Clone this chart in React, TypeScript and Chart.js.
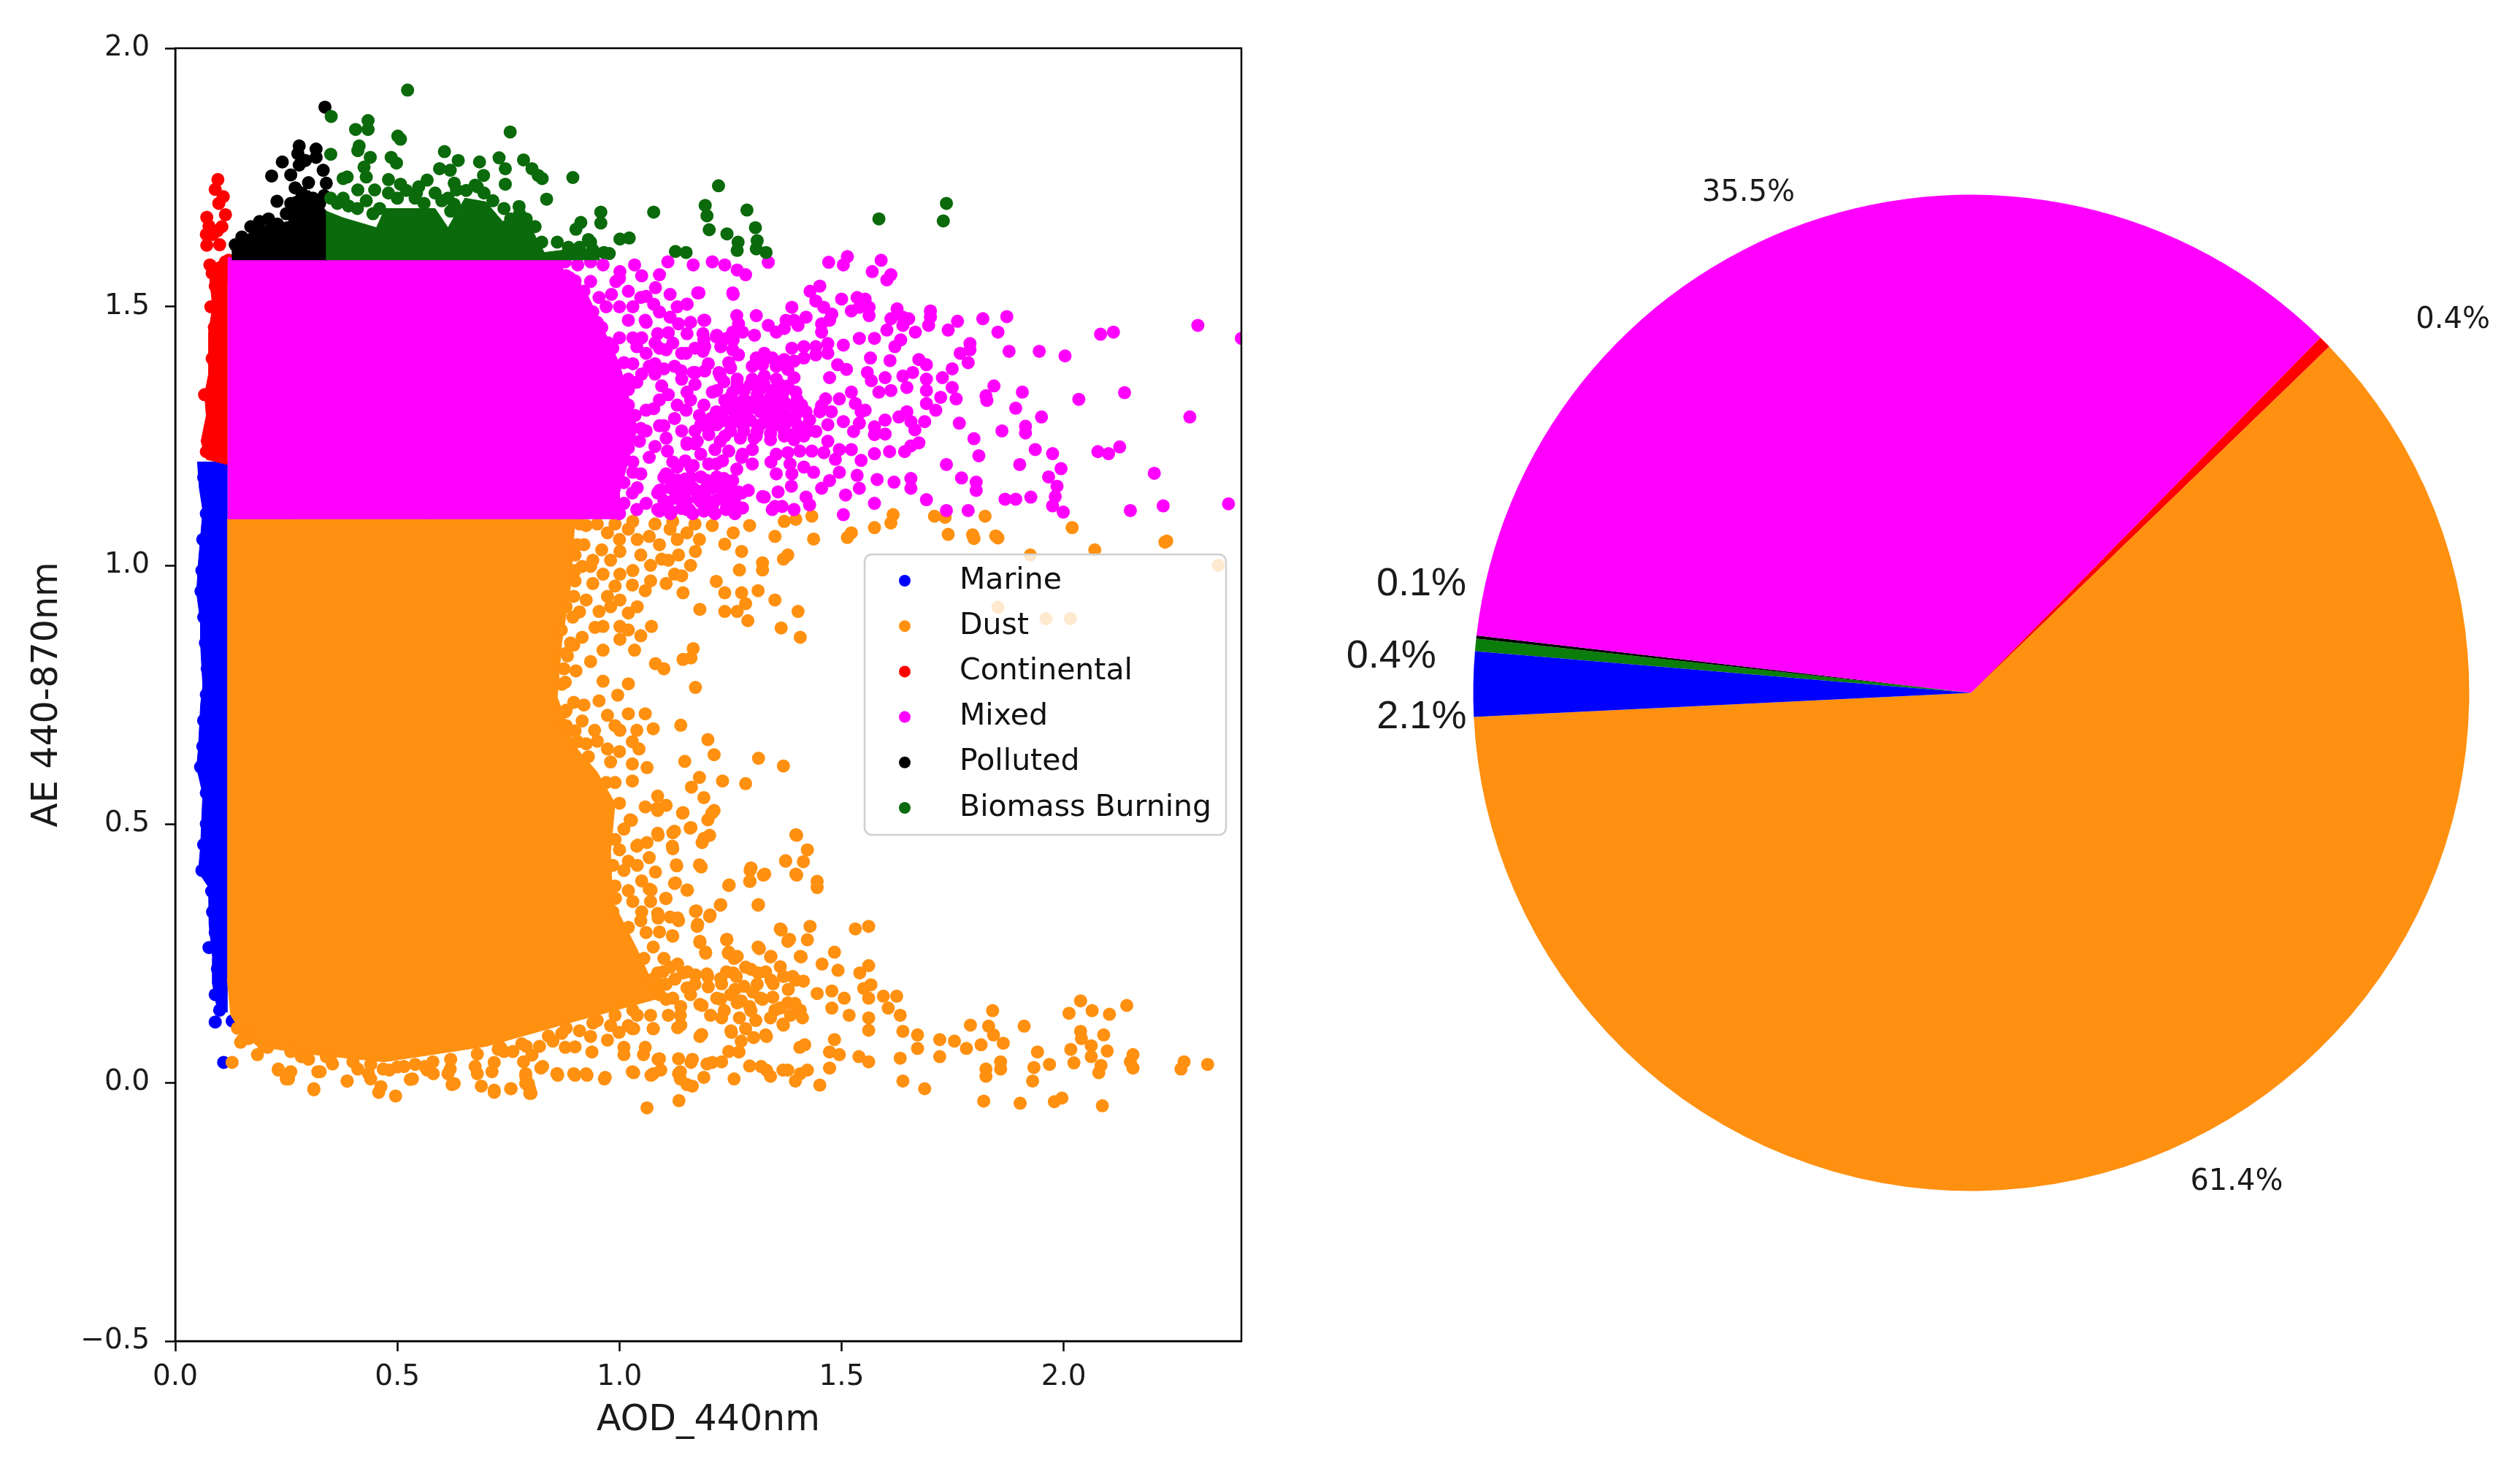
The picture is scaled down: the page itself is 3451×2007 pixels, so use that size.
import React, { useEffect, useRef } from "react";
import Chart from "chart.js/auto";

type P = [number, number];

const categories = ["Marine", "Dust", "Continental", "Mixed", "Polluted", "Biomass Burning"];
const scatterColors = ["#0000ff", "#ff9010", "#ff0000", "#ff00ff", "#000000", "#0b6a0b"];
const xTicks = [0, 0.5, 1, 1.5, 2];
const yTicks = [-0.5, 0, 0.5, 1, 1.5, 2];

const pieShares = [2.1, 61.4, 0.4, 35.5, 0.1, 0.4];
const pieColors = ["#0000ff", "#ff9010", "#ff0000", "#ff00ff", "#000000", "#0a7d0a"];

// Saturated regions of the scatter, as outlines
const marineCore: P[] = [[0.118,1.2],[0.05,1.2],[0.054,1.15],[0.062,1.106],[0.052,1.005],[0.048,0.947],[0.057,0.89],[0.057,0.846],[0.062,0.767],[0.057,0.731],[0.052,0.645],[0.048,0.609],[0.062,0.558],[0.057,0.457],[0.052,0.407],[0.075,0.378],[0.076,0.306],[0.084,0.241],[0.084,0.19],[0.095,0.14],[0.118,0.136]];
const dustCore: P[] = [[0.117,1.09],[0.9,1.09],[0.89,0.96],[0.87,0.85],[0.86,0.745],[0.9,0.65],[0.95,0.6],[0.99,0.54],[0.98,0.445],[0.985,0.35],[1.04,0.257],[1.09,0.163],[0.89,0.116],[0.7,0.07],[0.47,0.04],[0.3,0.055],[0.185,0.07],[0.147,0.1],[0.125,0.13],[0.117,0.2]];
const continentalCore: P[] = [[0.118,1.195],[0.07,1.205],[0.058,1.24],[0.07,1.29],[0.066,1.33],[0.075,1.37],[0.075,1.45],[0.084,1.5],[0.078,1.55],[0.078,1.58],[0.118,1.595]];
const mixedCore: P[] = [[0.118,1.595],[0.85,1.595],[0.93,1.52],[1.0,1.39],[1.04,1.265],[1.0,1.14],[1.0,1.09],[0.118,1.09]];
const pollutedCore: P[] = [[0.128,1.59],[0.128,1.62],[0.189,1.655],[0.255,1.665],[0.26,1.71],[0.302,1.725],[0.34,1.685],[0.34,1.59]];
const biomassCore: P[] = [[0.34,1.59],[0.34,1.685],[0.378,1.672],[0.453,1.653],[0.472,1.69],[0.529,1.69],[0.585,1.69],[0.614,1.653],[0.652,1.71],[0.699,1.703],[0.737,1.665],[0.784,1.684],[0.812,1.634],[0.831,1.605],[0.878,1.61],[0.935,1.612],[0.954,1.6],[0.954,1.59]];

// Individually visible points
const marineDots: P[] = [[0.09,0.117],[0.128,0.119],[0.109,0.039],[0.076,0.261],
[0.064,1.17],[0.07,1.1],[0.062,1.05],[0.06,0.99],[0.058,0.95],[0.064,0.9],[0.068,0.85],[0.072,0.8],[0.07,0.75],[0.064,0.7],[0.062,0.65],[0.057,0.61],[0.07,0.56],[0.07,0.5],[0.064,0.46],[0.06,0.41],[0.082,0.37],[0.084,0.33],[0.09,0.29],[0.095,0.22],[0.09,0.17],[0.1,0.14]];
const continentalDots: P[] = [[0.096,1.746],[0.09,1.727],[0.108,1.713],[0.098,1.7],[0.113,1.678],[0.071,1.673],[0.076,1.656],[0.095,1.647],[0.071,1.619],[0.113,1.587],[0.1,1.62],[0.085,1.64],
[0.078,1.24],[0.07,1.22],[0.083,1.3],[0.066,1.33],[0.083,1.4],[0.088,1.46],[0.08,1.5],[0.09,1.54],[0.083,1.565],[0.115,1.56],[0.12,1.59],[0.12,1.575],[0.078,1.581],[0.105,1.655],[0.07,1.64]];
const pollutedDots: P[] = [[0.337,1.886],[0.217,1.753],[0.241,1.78],[0.26,1.755],[0.279,1.811],[0.276,1.796],[0.279,1.774],[0.293,1.783],[0.317,1.805],[0.317,1.789],[0.333,1.764],[0.34,1.739],[0.229,1.704],
[0.135,1.62],[0.15,1.635],[0.17,1.655],[0.19,1.665],[0.21,1.67],[0.23,1.66],[0.25,1.68],[0.26,1.7],[0.27,1.73],[0.285,1.72],[0.3,1.74],[0.31,1.71],[0.325,1.7],[0.335,1.715],[0.29,1.7]];
const biomassDots: P[] = [[0.523,1.919],[0.351,1.868],[0.434,1.86],[0.406,1.843],[0.434,1.843],[0.501,1.83],[0.507,1.824],[0.414,1.811],[0.411,1.802],[0.35,1.795],[0.439,1.789],[0.486,1.789],[0.498,1.778],[0.606,1.8],[0.637,1.783],[0.595,1.767],[0.619,1.764],[0.685,1.78],[0.729,1.788],[0.754,1.838],[0.784,1.784],[0.803,1.767],[0.817,1.754],[0.826,1.748],[0.743,1.767],[0.694,1.754],[0.743,1.737],[0.895,1.75],[0.425,1.77],[0.387,1.751],[0.378,1.748],[0.43,1.751],[0.48,1.746],[0.507,1.737],[0.449,1.726],[0.411,1.726],[0.567,1.745],[0.548,1.732],[0.628,1.739],[0.633,1.726],[0.68,1.732],[0.543,1.72],[0.378,1.71],[0.836,1.708],[0.774,1.694],[0.958,1.683],[0.958,1.662],[0.913,1.663],[0.902,1.65],[1.077,1.683],[1.223,1.734],[1.193,1.696],[1.197,1.676],[1.202,1.649],[1.242,1.641],[1.287,1.687],[1.306,1.653],[1.31,1.628],[1.267,1.625],[1.265,1.609],[1.308,1.612],[1.33,1.605],[1.001,1.631],[1.022,1.633],[0.977,1.603],[1.126,1.607],[1.15,1.605],[0.935,1.625],[0.614,1.71],[0.628,1.698],[1.584,1.67],[1.736,1.7],[1.729,1.666],
[0.35,1.71],[0.365,1.7],[0.39,1.695],[0.41,1.69],[0.43,1.705],[0.445,1.68],[0.46,1.69],[0.48,1.72],[0.5,1.71],[0.52,1.725],[0.54,1.71],[0.56,1.7],[0.585,1.72],[0.6,1.705],[0.62,1.685],[0.64,1.675],[0.655,1.725],[0.675,1.735],[0.695,1.72],[0.715,1.705],[0.74,1.69],[0.755,1.67],[0.775,1.68],[0.79,1.67],[0.81,1.655],[0.825,1.625],[0.86,1.625],[0.885,1.615],[0.91,1.615],[0.94,1.61],[0.965,1.605],[0.93,1.63]];
const mixedDots: P[] = [
[1.335,1.586],[1.471,1.586],[1.513,1.597],[1.504,1.581],[1.589,1.59],[1.569,1.568],[1.611,1.562],[1.602,1.552],[1.451,1.54],[1.429,1.53],[1.5,1.515],[1.535,1.518],[1.553,1.515],[1.54,1.499],[1.562,1.499],[1.522,1.492],[1.562,1.483],[1.625,1.496],[1.7,1.492],[1.7,1.48],[1.696,1.464],[1.638,1.48],[1.651,1.477],[1.611,1.477],[1.638,1.464],[1.602,1.455],[1.666,1.451],[1.761,1.472],[1.74,1.455],[1.818,1.477],[1.872,1.481],[1.852,1.451],[2.083,1.447],[2.112,1.451],[2.302,1.464],[2.4,1.439],[1.54,1.439],[1.574,1.439],[1.504,1.426],[1.633,1.436],[1.62,1.423],[1.789,1.429],[1.789,1.417],[1.767,1.41],[1.785,1.392],[1.877,1.414],[1.945,1.414],[2.003,1.405],[1.565,1.401],[1.609,1.396],[1.674,1.398],[1.691,1.388],[1.749,1.38],[1.511,1.379],[1.491,1.388],[1.473,1.363],[1.558,1.373],[1.598,1.363],[1.567,1.357],[1.638,1.366],[1.66,1.373],[1.691,1.36],[1.727,1.363],[1.647,1.344],[1.749,1.344],[1.584,1.335],[1.611,1.338],[1.691,1.338],[1.723,1.325],[1.758,1.322],[1.843,1.347],[1.825,1.328],[1.827,1.319],[1.907,1.335],[2.034,1.321],[2.137,1.334],[1.691,1.313],[1.712,1.3],[1.892,1.304],[1.95,1.287],[2.284,1.287],[1.647,1.297],[1.629,1.287],[1.656,1.278],[1.687,1.278],[1.665,1.262],[1.598,1.281],[1.574,1.268],[1.574,1.253],[1.598,1.254],[1.553,1.3],[1.54,1.275],[1.527,1.259],[1.765,1.275],[1.861,1.26],[1.914,1.269],[1.914,1.256],[1.798,1.245],[1.674,1.237],[1.656,1.231],[1.642,1.22],[1.608,1.22],[1.574,1.216],[1.522,1.224],[1.544,1.203],[1.809,1.212],[1.936,1.224],[1.975,1.216],[2.077,1.22],[2.101,1.216],[2.126,1.229],[1.736,1.195],[1.901,1.195],[1.994,1.187],[2.204,1.178],[1.966,1.171],[1.985,1.153],[1.77,1.169],[1.803,1.161],[1.803,1.145],[1.656,1.168],[1.656,1.149],[1.618,1.161],[1.58,1.166],[1.535,1.174],[1.54,1.149],[1.495,1.18],[1.473,1.164],[1.455,1.149],[1.509,1.136],[1.42,1.132],[1.387,1.153],[1.357,1.142],[1.326,1.132],[1.29,1.145],[1.574,1.12],[1.691,1.127],[1.868,1.128],[1.892,1.128],[1.926,1.132],[1.981,1.133],[1.975,1.115],[1.999,1.103],[1.736,1.106],[1.785,1.106],[2.15,1.106],[2.224,1.115],[2.371,1.119],[1.504,1.098],[1.428,1.117],[1.393,1.108],[1.344,1.108],[1.366,1.114],
[1.442,1.511],[1.46,1.499],[1.478,1.486],[1.455,1.467],[1.473,1.474],[1.388,1.499],[1.393,1.474],[1.375,1.474],[1.42,1.48],[1.335,1.464],[1.353,1.451],[1.371,1.458],[1.402,1.464],[1.455,1.451],[1.308,1.483],[1.304,1.445],[1.264,1.483],[1.255,1.527],[1.179,1.527],[1.152,1.505],[1.192,1.474],[1.268,1.467],[1.255,1.451],[1.277,1.451],[1.188,1.448],[1.219,1.445],[1.241,1.439],[1.192,1.423],[1.228,1.423],[1.255,1.417],[1.188,1.414],[1.469,1.429],[1.442,1.423],[1.415,1.423],[1.388,1.42],[1.469,1.41],[1.442,1.407],[1.415,1.401],[1.393,1.395],[1.371,1.398],[1.326,1.41],[1.308,1.401],[1.344,1.401],[1.268,1.407],[1.246,1.392],[1.224,1.373],[1.192,1.376],[1.166,1.373],[1.139,1.376],[1.25,1.382],[1.299,1.385],[1.322,1.388],[1.353,1.385],[1.379,1.379],[1.393,1.363],[1.326,1.366],[1.299,1.36],[1.353,1.36],[1.379,1.347],[1.397,1.335],[1.344,1.338],[1.317,1.341],[1.281,1.338],[1.255,1.335],[1.219,1.338],[1.237,1.319],[1.264,1.313],[1.29,1.316],[1.317,1.319],[1.344,1.313],[1.371,1.316],[1.393,1.309],[1.42,1.297],[1.397,1.291],[1.371,1.294],[1.344,1.291],[1.317,1.297],[1.286,1.294],[1.259,1.294],[1.232,1.297],[1.206,1.284],[1.183,1.272],[1.219,1.272],[1.25,1.275],[1.277,1.272],[1.317,1.272],[1.344,1.268],[1.375,1.275],[1.406,1.268],[1.428,1.281],[1.451,1.297],[1.464,1.322],[1.455,1.309],[1.477,1.297],[1.504,1.278],[1.495,1.322],[1.522,1.335],[1.531,1.313],[1.544,1.297],[1.469,1.272],[1.442,1.259],[1.415,1.25],[1.393,1.243],[1.371,1.25],[1.34,1.243],[1.308,1.25],[1.272,1.246],[1.237,1.25],[1.201,1.253],[1.175,1.24],[1.152,1.237],[1.108,1.221],[1.469,1.24],[1.495,1.224],[1.486,1.205],[1.46,1.218],[1.433,1.221],[1.406,1.221],[1.379,1.218],[1.353,1.215],[1.299,1.224],[1.277,1.215],[1.246,1.221],[1.215,1.224],[1.183,1.215],[1.148,1.202],[1.13,1.19],[1.166,1.193],[1.201,1.196],[1.232,1.202],[1.264,1.186],[1.299,1.196],[1.384,1.196],[1.415,1.19],[1.437,1.18],[1.353,1.177],[1.388,1.177],
[1.09,1.105],[1.115,1.1],[1.14,1.11],[1.165,1.1],[1.19,1.105],[1.215,1.1],[1.24,1.108],[1.26,1.1],[1.1,1.125],[1.125,1.13],[1.15,1.125],[1.175,1.13],[1.2,1.125],[1.23,1.13],[1.255,1.125],[1.09,1.145],[1.115,1.15],[1.14,1.148],[1.165,1.15],[1.19,1.145],[1.225,1.15],[1.25,1.148],[1.1,1.17],[1.13,1.165],[1.16,1.17],[1.195,1.165],[1.235,1.168],[1.112,1.171],[1.148,1.167],[1.183,1.171],[1.219,1.171],[1.255,1.164],[1.094,1.146],[1.13,1.142],[1.17,1.146],[1.206,1.149],[1.241,1.145],[1.268,1.142],[1.108,1.12],[1.143,1.127],[1.183,1.123],[1.219,1.127],[1.259,1.123],[1.277,1.111],[1.117,1.104],[1.157,1.108],[1.197,1.108],[1.241,1.111],[1.048,1.177],[1.105,1.177],[1.029,1.14],[1.086,1.14],[1.152,1.145],[1.209,1.152],[1.039,1.108],[1.086,1.108],[1.152,1.108],[1.209,1.114],
[1.235,1.355],[1.265,1.35],[1.295,1.35],[1.325,1.35],[1.36,1.35],[1.25,1.325],[1.28,1.32],[1.31,1.33],[1.34,1.325],[1.365,1.33],[1.4,1.32],[1.245,1.305],[1.275,1.3],[1.305,1.305],[1.335,1.3],[1.36,1.3],[1.41,1.31],[1.235,1.28],[1.265,1.28],[1.295,1.28],[1.33,1.28],[1.36,1.285],[1.395,1.28],[1.25,1.26],[1.28,1.26],[1.31,1.26],[1.34,1.255],[1.37,1.262],[1.4,1.26],[1.425,1.26],
[0.878,1.587],[0.906,1.581],[0.935,1.587],[0.963,1.581],[1.001,1.568],[1.034,1.581],[0.888,1.556],[0.935,1.549],[0.992,1.549],[1.02,1.53],[0.954,1.518],[0.982,1.524],[1.077,1.505],[1.048,1.518],[1.109,1.587],[1.09,1.562],[1.081,1.537],[1.114,1.524],[1.166,1.581],[1.176,1.527],[1.152,1.505],[1.114,1.48],[1.133,1.467],[1.19,1.474],[1.02,1.474],[1.058,1.474],[1.086,1.448],[1.152,1.448],[1.19,1.436],[1.218,1.442],[1.256,1.436],[1.105,1.417],[1.039,1.423],[1.01,1.392],[1.067,1.385],[1.124,1.385],[1.171,1.373],[1.227,1.366],[1.039,1.354],[1.095,1.347],[1.152,1.335],[1.209,1.335],[1.265,1.36],[1.312,1.354],[1.369,1.335],[1.02,1.31],[1.077,1.303],[1.124,1.284],[1.218,1.297],[1.275,1.316],[1.331,1.309],[1.048,1.265],[1.105,1.246],[1.199,1.265],[1.256,1.278],[1.35,1.278],[1.02,1.227],[1.067,1.209],[1.152,1.234],[1.227,1.24],[1.303,1.246],[1.379,1.253],[1.161,1.19],[1.218,1.196],[1.275,1.209],[1.341,1.2],[1.275,1.14],[1.322,1.133],[1.265,1.108],[1.35,1.114],[1.209,1.587],[1.237,1.581],[1.265,1.571],[1.284,1.562],[1.256,1.524],
[0.86,1.58],[0.88,1.56],[0.9,1.54],[0.92,1.53],[0.94,1.49],[0.96,1.46],[0.975,1.43],[1.0,1.44],[1.0,1.5],[1.03,1.44],[1.06,1.41],[1.08,1.39],[1.11,1.33],[1.14,1.41],[1.17,1.42],[1.11,1.45],[1.06,1.52],[1.05,1.56],[0.97,1.5],[1.02,1.36],[1.09,1.27],[1.15,1.3],[1.17,1.26],[1.19,1.31],[1.09,1.42],
[1.03,1.5],[1.0,1.555],[1.06,1.47],[1.09,1.49],[1.13,1.5],[1.16,1.47],[1.05,1.44],[1.08,1.43],[1.12,1.43],[1.15,1.41],[1.03,1.39],[1.05,1.37],[1.08,1.37],[1.1,1.38],[1.14,1.36],[1.17,1.35],[1.2,1.39],[1.06,1.3],[1.09,1.32],[1.13,1.31],[1.16,1.32],[1.18,1.29],[1.06,1.26],[1.1,1.27],[1.14,1.26],[1.17,1.235],[1.08,1.23],[1.12,1.2],[1.04,1.15],[1.06,1.12],[1.03,1.18],
[0.985,1.42],[1.02,1.34],[1.035,1.29],[1.045,1.24],[1.03,1.2],[1.01,1.16],[1.01,1.12],[1.0,1.1],[0.95,1.47],[0.9,1.55]];
const dustDots: P[] = [
[1.709,1.095],[1.616,1.098],[1.611,1.082],[1.574,1.073],[1.522,1.063],[1.513,1.054],[1.74,1.06],[1.798,1.052],[1.847,1.057],[1.823,1.095],[2.019,1.073],[2.228,1.045],[1.437,1.051],[1.433,1.095],[1.397,1.089],[1.371,1.085],[2.348,1.0],[2.232,1.047],[2.07,1.03],[1.925,1.02],[1.852,1.053],[1.795,1.059],[1.733,1.093],[1.96,0.897],[2.015,0.897],[1.852,0.919],
[0.916,0.998],[0.935,0.998],[0.963,0.983],[1.001,0.983],[1.029,0.962],[1.058,0.951],[0.897,0.94],[0.925,0.933],[0.973,0.94],[1.001,0.933],[0.954,0.911],[1.02,0.908],[0.963,0.882],[1.001,0.882],[1.072,0.882],[1.02,0.875],[0.869,0.875],[0.916,0.861],[0.897,0.846],[1.001,0.857],[1.048,0.864],[1.034,0.836],[0.963,0.836],[0.883,0.825],[0.902,0.796],[0.935,0.814],[1.081,0.81],[1.1,0.8],[1.161,0.821],[1.166,0.839],[1.143,0.818],[0.878,0.774],[0.963,0.776],[1.02,0.771],[0.996,0.749],[1.171,0.764],[0.897,0.735],[0.954,0.738],[0.878,0.717],[1.138,0.691],[0.916,0.699],[0.944,0.681],[0.973,0.71],[1.02,0.713],[1.058,0.713],[1.001,0.681],[1.039,0.681],[1.076,0.684],[1.199,0.663],[1.213,0.634],[0.906,0.659],[0.973,0.645],[1.029,0.659],[1.044,0.645],[1.313,0.627],[1.369,0.612],[1.147,0.621],[1.029,0.616],[1.062,0.609],[1.029,0.583],[1.18,0.59],[1.162,0.571],[1.232,0.583],[1.284,0.578],[1.19,0.551],[1.086,0.554],[1.058,0.533],[1.105,0.536],[1.086,0.526],[1.143,0.522],[1.213,0.526],[1.199,0.508],[1.024,0.508],[1.161,0.493],[1.124,0.486],[1.086,0.482],[1.062,0.464],[1.039,0.457],[1.119,0.457],[1.19,0.472],[1.397,0.479],[1.374,0.428],[1.128,0.421],[1.18,0.421],[1.067,0.435],[1.02,0.428],[1.081,0.407],[1.294,0.41],[1.327,0.403],[1.397,0.403],[1.294,0.389],[1.246,0.381],[1.124,0.385],[1.152,0.372],[1.02,0.371],[1.067,0.374],[0.991,0.356],[1.227,0.343],[1.312,0.343],[1.105,0.356],[1.171,0.331],[1.204,0.324],[1.086,0.327],[1.048,0.313],[1.114,0.32],[1.133,0.313],[1.176,0.306],[1.364,0.295],[1.09,0.291],[1.119,0.284],[1.242,0.277],[1.383,0.277],[1.181,0.273],[1.076,0.262],[1.312,0.262],[1.194,0.252],[1.246,0.252],[1.341,0.244],[1.407,0.244],[1.265,0.244],
[1.086,0.212],[1.105,0.19],[1.152,0.183],[1.105,0.161],[1.138,0.147],[1.181,0.151],[1.35,0.14],[1.138,0.111],[1.029,0.104],[1.076,0.104],[1.185,0.093],[1.251,0.1],[1.284,0.104],[1.331,0.089],[1.369,0.111],
[1.114,0.223],[1.143,0.212],[1.171,0.208],[1.199,0.205],[1.228,0.201],[1.256,0.212],[1.284,0.223],[1.312,0.212],[1.341,0.198],[1.369,0.205],[1.397,0.198],[1.228,0.161],[1.265,0.154],[1.293,0.147],[1.322,0.161],[1.379,0.154],[1.407,0.14],[1.098,0.214],[1.131,0.229],[1.153,0.214],[1.197,0.21],[1.241,0.214],[1.263,0.205],[1.296,0.219],[1.329,0.214],[1.362,0.224],[1.346,0.191],[1.087,0.191],[1.23,0.191],[1.28,0.186],[1.219,0.163],[1.274,0.158],[1.318,0.163],[1.395,0.153],[1.186,0.149],[1.236,0.139],[1.296,0.139],[1.362,0.144],[1.412,0.125],[1.23,0.125],[1.307,0.12],[1.125,0.2],[1.17,0.19],[1.2,0.185],[1.26,0.18],[1.31,0.19],[1.38,0.18],[1.25,0.17],[1.3,0.175],[1.345,0.165],[1.205,0.13],[1.27,0.125],[1.34,0.125],[1.385,0.13],[1.16,0.17],
[0.151,0.082],[0.128,0.039],[0.232,0.024],[0.26,0.021],[0.25,0.007],[0.321,0.021],[0.312,-0.012],[0.387,0.003],[0.435,0.017],[0.482,0.024],[0.463,-0.008],[0.529,0.006],[0.567,0.024],[0.614,0.017],[0.623,-0.004],[0.68,0.017],[0.718,-0.015],[0.755,-0.012],[0.789,0.017],[0.798,-0.012],[0.859,0.017],[0.897,0.017],[0.925,0.017],[0.968,0.01],[1.029,0.021],[1.076,0.017],[1.133,0.046],[1.161,0.039],[1.133,0.017],[1.152,-0.004],[1.209,0.039],[1.246,0.06],[1.293,0.032],[1.331,0.024],[1.379,0.024],[1.407,0.017],[0.732,0.068],[0.718,0.039],[0.803,0.053],[0.878,0.068],[0.935,0.089],[0.973,0.082],[1.01,0.068],[1.058,0.068],[1.09,0.046],[1.19,0.01],[0.161,0.097],[0.208,0.068],[0.283,0.053],[0.349,0.046],
[0.147,0.078],[0.185,0.054],[0.232,0.026],[0.255,0.007],[0.312,-0.014],[0.284,0.05],[0.326,0.021],[0.387,0.003],[0.458,-0.019],[0.496,-0.026],[0.468,0.026],[0.534,0.007],[0.581,0.017],[0.628,-0.002],[0.689,-0.007],[0.718,-0.019],[0.756,-0.012],[0.798,-0.021],[0.727,0.064],[0.784,0.04],[0.827,0.031],[0.86,0.017],[0.354,0.036],[0.411,0.026],[0.44,0.007],[0.515,0.031],[0.562,0.031],[0.619,0.026],[0.675,0.031],[0.713,0.021],[0.789,0.012],[0.789,-0.002],
[1.399,0.478],[1.423,0.45],[1.374,0.429],[1.414,0.427],[1.296,0.415],[1.324,0.401],[1.399,0.401],[1.445,0.389],[1.445,0.377],[1.293,0.389],[1.247,0.382],[1.313,0.344],[1.228,0.344],[1.153,0.372],[1.126,0.386],[1.184,0.417],[1.129,0.419],[1.208,0.521],[1.142,0.521],[1.084,0.53],[1.027,0.507],[1.159,0.492],[1.203,0.478],[1.12,0.483],[1.087,0.478],[1.041,0.459],[1.12,0.452],[1.186,0.464],[1.071,0.372],[1.104,0.356],[1.173,0.332],[1.203,0.321],[1.175,0.302],[1.131,0.318],[1.087,0.318],[1.12,0.283],[1.181,0.271],[1.241,0.276],[1.362,0.297],[1.379,0.273],[1.429,0.302],[1.423,0.276],[1.531,0.297],[1.561,0.302],[1.315,0.259],[1.194,0.25],[1.245,0.25],[1.34,0.243],[1.409,0.243],[1.484,0.252],[1.258,0.24],[1.456,0.229],[1.492,0.217],[1.561,0.226],[1.541,0.212],
[1.39,0.205],[1.414,0.196],[1.445,0.172],[1.478,0.177],[1.506,0.163],[1.55,0.182],[1.566,0.189],[1.594,0.167],[1.624,0.167],[1.12,0.163],[1.478,0.144],[1.517,0.13],[1.561,0.163],[1.561,0.125],[1.605,0.144],[1.632,0.13],[1.137,0.13],[1.131,0.106],[1.368,0.113],[1.252,0.097],[1.561,0.101],[1.638,0.099],[1.84,0.139],[1.79,0.111],[1.831,0.109],[1.911,0.109],[2.038,0.158],[2.064,0.139],[2.012,0.134],[2.103,0.132],[2.142,0.149],[2.038,0.099],[2.09,0.092],[2.04,0.085],[2.062,0.071],[2.098,0.061],[2.016,0.064],[2.023,0.038],[2.062,0.05],[2.084,0.033],[2.079,0.019],[2.156,0.054],[2.15,0.04],[2.156,0.028],[2.271,0.04],[2.264,0.026],[2.324,0.035],[1.941,0.059],[1.968,0.035],[1.933,0.029],[1.93,0.003],[1.858,0.04],[1.858,0.026],[1.825,0.026],[1.825,0.012],[1.721,0.083],[1.721,0.05],[1.754,0.08],[1.781,0.066],[1.814,0.073],[1.842,0.092],[1.864,0.076],[1.671,0.092],[1.671,0.066],[1.632,0.047],[1.638,0.003],[1.687,-0.012],[1.82,-0.036],[1.902,-0.04],[1.979,-0.037],[1.996,-0.03],[2.087,-0.045],[1.062,-0.049],[1.134,-0.035],
[1.484,0.083],[1.473,0.059],[1.406,0.068],[1.495,0.054],[1.539,0.05],[1.561,0.04],[1.473,0.028],[1.423,0.024],[1.451,-0.005],[1.396,0.003],[1.368,0.024],[1.319,0.031],[1.34,0.012],[1.269,0.059],[1.23,0.04],[1.258,0.007],[1.197,0.036],[1.164,0.045],[1.137,0.021],[1.164,-0.007],[1.137,0.007],[1.093,0.024],[1.032,0.019],[1.071,0.014],[0.966,0.007],[0.927,0.014],[0.9,0.014],[0.861,0.014],[0.801,-0.021],[0.795,-0.002],[1.274,0.08],[1.076,0.104],[1.032,0.104],[0.999,0.097],[0.9,0.069],[0.938,0.059],[1.01,0.054],[1.054,0.054],[1.087,0.045],[0.823,0.028],[1.329,0.092],[1.181,0.089],[1.302,0.087],[1.417,0.073],
[0.925,1.077],[0.973,1.063],[1.02,1.07],[1.067,1.056],[1.114,1.07],[1.152,1.063],[1.171,1.027],[1.133,1.02],[1.095,1.012],[1.048,1.02],[1.001,1.027],[1.124,0.983],[1.105,0.965],[1.143,0.947],[1.209,1.077],[1.256,1.063],[1.293,1.077],[1.35,1.056],[1.379,1.02],[1.237,1.041],[1.275,1.027],[1.322,1.005],[1.369,1.012],[1.218,0.969],[1.27,0.991],[1.322,0.991],[1.237,0.947],[1.275,0.947],[1.312,0.951],[1.35,0.933],[1.284,0.926],[1.265,0.911],[1.181,0.915],[1.237,0.911],[1.289,0.893],[1.364,0.879],[1.407,0.861],[1.402,0.911],
[0.91,1.08],[0.95,1.08],[0.99,1.08],[1.03,1.085],[1.08,1.08],[1.12,1.085],[1.17,1.08],[0.92,1.04],[0.96,1.03],[1.0,1.05],[1.04,1.05],[1.09,1.04],[1.13,1.05],[1.18,1.05],[0.9,1.02],[0.94,1.01],[0.98,1.01],[1.03,0.99],[1.07,1.0],[1.11,1.01],[1.16,1.0],[0.9,0.97],[0.94,0.965],[0.99,0.96],[1.07,0.97],[1.14,0.98],[0.88,0.92],[0.91,0.91],[0.945,0.88],[0.98,0.92],[1.04,0.92],[0.89,0.85],[0.88,0.69],[0.92,0.73],[0.925,0.655],[0.95,0.66],[0.99,0.69],[0.98,0.62],[1.0,0.64],[0.99,0.58],[1.0,0.54],[1.01,0.49],[1.0,0.45],[1.01,0.41],[1.04,0.42],[1.05,0.39],[1.03,0.35],[1.05,0.33],[1.07,0.35],[1.06,0.29],[1.1,0.24],[1.11,0.13],[1.07,0.13],[1.04,0.13],[1.02,0.11],[0.98,0.11],[0.95,0.12],[0.91,0.1],[0.87,0.095],[0.85,0.08],[0.82,0.07],[0.79,0.07],[0.76,0.06],
[0.985,0.33],[0.99,0.38],[0.985,0.42],[0.99,0.47],[1.02,0.3],[1.055,0.24],[1.075,0.2],[1.09,0.17],[1.03,0.14],[0.99,0.13],[0.94,0.115],[0.88,0.105],[0.84,0.09],[0.78,0.075],[0.74,0.06],[0.68,0.055],[0.62,0.045],[0.58,0.04],[0.54,0.035],[0.5,0.03],[0.44,0.035],[0.4,0.04],[0.34,0.05],[0.3,0.045],[0.26,0.06],[0.2,0.07],[0.165,0.085],[0.14,0.105],[0.88,0.72],[0.87,0.77],[0.875,0.8],[0.88,0.83],[0.895,0.9],[0.9,0.99],[0.905,1.04],[0.9,0.68],[0.93,0.63],[0.97,0.58]];

const coreSets: P[][] = [marineCore, dustCore, continentalCore, mixedCore, pollutedCore, biomassCore];
const dotSets: P[][] = [marineDots, dustDots, continentalDots, mixedDots, pollutedDots, biomassDots];

const TICK_FONT = { family: "DejaVu Sans", size: 39 };

const frameAndLegend = {
  id: "frameAndLegend",
  afterDatasetsDraw(chart: any) {
    const { ctx, chartArea: a } = chart;
    ctx.save();
    ctx.strokeStyle = "#000";
    ctx.lineWidth = 2.5;
    ctx.strokeRect(a.left, a.top, a.right - a.left, a.bottom - a.top);
    // legend frame
    const bx = 1184, by = 759, bw = 495, bh = 384, r = 10;
    ctx.beginPath();
    ctx.roundRect(bx, by, bw, bh, r);
    ctx.fillStyle = "rgba(255,255,255,0.8)";
    ctx.fill();
    ctx.strokeStyle = "#d0d0d0";
    ctx.lineWidth = 2.5;
    ctx.stroke();
    ctx.font = '41px "DejaVu Sans"';
    ctx.textBaseline = "middle";
    ctx.textAlign = "left";
    categories.forEach((name, i) => {
      const y = 795 + i * 62.2;
      ctx.beginPath();
      ctx.arc(1239, y, 8, 0, Math.PI * 2);
      ctx.fillStyle = scatterColors[i];
      ctx.fill();
      ctx.fillStyle = "#111";
      ctx.fillText(name, 1314, y);
    });
    ctx.restore();
  },
};

// nudges of each percentage label from the 1.1 radius anchor
const pieLabelStyle = [
  { font: '54px "Liberation Sans"', align: "right", dx: 59, dy: 47 },
  { font: '40px "DejaVu Sans"', align: "left", dx: 2, dy: -18 },
  { font: '40px "DejaVu Sans"', align: "left", dx: 76, dy: 18 },
  { font: '40px "DejaVu Sans"', align: "right", dx: 8, dy: 24 },
  { font: '54px "Liberation Sans"', align: "right", dx: 54, dy: -64 },
  { font: '54px "Liberation Sans"', align: "right", dx: 14, dy: 23 },
];

const pieLabels = {
  id: "pieLabels",
  afterDatasetsDraw(chart: any) {
    const { ctx } = chart;
    const arcs = chart.getDatasetMeta(0).data;
    ctx.save();
    ctx.fillStyle = "#1a1a1a";
    ctx.textBaseline = "middle";
    arcs.forEach((arc: any, i: number) => {
      const k = pieOrder[i];
      const st = pieLabelStyle[k];
      const mid = (arc.startAngle + arc.endAngle) / 2;
      const x = arc.x + Math.cos(mid) * arc.outerRadius * 1.1 + st.dx;
      const y = arc.y + Math.sin(mid) * arc.outerRadius * 1.1 + st.dy;
      ctx.font = st.font;
      ctx.textAlign = st.align;
      ctx.fillText(pieShares[k].toFixed(1) + "%", x, y);
    });
    ctx.restore();
  },
};

// Chart.js sweeps clockwise, the reference counter-clockwise, so the slices are listed backwards
const pieOrder = [5, 4, 3, 2, 1, 0];

const tickText = (v: number) => (v < 0 ? "\u2212" : "") + Math.abs(v).toFixed(1);

export default function App() {
  const leftRef = useRef<HTMLCanvasElement>(null);
  const rightRef = useRef<HTMLCanvasElement>(null);

  useEffect(() => {
    const datasets: any[] = [];
    categories.forEach((name, i) => {
      datasets.push({
        label: name + " dense",
        data: coreSets[i].map(([x, y]) => ({ x, y })),
        showLine: true,
        fill: "shape",
        backgroundColor: scatterColors[i],
        borderColor: scatterColors[i],
        borderWidth: 1,
        pointRadius: 0,
        clip: 0,
      });
      datasets.push({
        label: name,
        data: dotSets[i].map(([x, y]) => ({ x, y })),
        backgroundColor: scatterColors[i],
        borderWidth: 0,
        pointRadius: 9,
        clip: 0,
      });
    });
    datasets.forEach((d, i) => (d.order = datasets.length - i));

    const axisCommon = {
      grid: { drawOnChartArea: false, drawTicks: true, tickLength: 14, tickColor: "#000", tickWidth: 2.5 },
      border: { display: true, color: "#000", width: 2.5 },
    };

    const scatter = new Chart(leftRef.current!, {
      type: "scatter",
      data: { datasets },
      plugins: [frameAndLegend],
      options: {
        animation: false,
        responsive: false,
        maintainAspectRatio: false,
        layout: { padding: { top: 66, right: 50, left: 0, bottom: 0 } },
        plugins: { legend: { display: false }, tooltip: { enabled: false }, title: { display: false } },
        scales: {
          x: {
            ...axisCommon,
            type: "linear",
            min: 0,
            max: 2.4,
            afterBuildTicks: (s: any) => { s.ticks = xTicks.map((value) => ({ value })); },
            afterFit: (s: any) => { s.height = 171; },
            ticks: { font: TICK_FONT, color: "#1a1a1a", padding: 12, maxRotation: 0, autoSkip: false, callback: (v: any) => tickText(Number(v)) },
            title: { display: true, text: "AOD_440nm", color: "#1a1a1a", font: { family: "DejaVu Sans", size: 49 }, padding: { top: 32, bottom: 32 } },
          },
          y: {
            ...axisCommon,
            type: "linear",
            min: -0.5,
            max: 2,
            afterBuildTicks: (s: any) => { s.ticks = yTicks.map((value) => ({ value })); },
            afterFit: (s: any) => { s.width = 240; },
            ticks: { font: TICK_FONT, color: "#1a1a1a", padding: 21, autoSkip: false, callback: (v: any) => tickText(Number(v)) },
            title: { display: true, text: "AE 440-870nm", color: "#1a1a1a", font: { family: "DejaVu Sans", size: 49 }, padding: { top: 36, bottom: 36 } },
          },
        },
      },
    } as any);

    const pie = new Chart(rightRef.current!, {
      type: "pie",
      data: {
        labels: pieOrder.map((k) => categories[k]),
        datasets: [{
          data: pieOrder.map((k) => pieShares[k]),
          backgroundColor: pieOrder.map((k) => pieColors[k]),
          borderWidth: 0,
        }],
      },
      plugins: [pieLabels],
      options: {
        animation: false,
        responsive: false,
        maintainAspectRatio: false,
        rotation: -85.2,
        layout: { padding: { left: 217.5, right: 69.5, top: 266.5, bottom: 376.5 } },
        plugins: { legend: { display: false }, tooltip: { enabled: false }, title: { display: false } },
      },
    } as any);

    return () => {
      scatter.destroy();
      pie.destroy();
    };
  }, []);

  return (
    <div>
      <canvas ref={leftRef} width={1750} height={2007} style={{ position: "absolute", left: 0, top: 0 }} />
      <canvas ref={rightRef} width={1651} height={2007} style={{ position: "absolute", left: 1800, top: 0 }} />
    </div>
  );
}
